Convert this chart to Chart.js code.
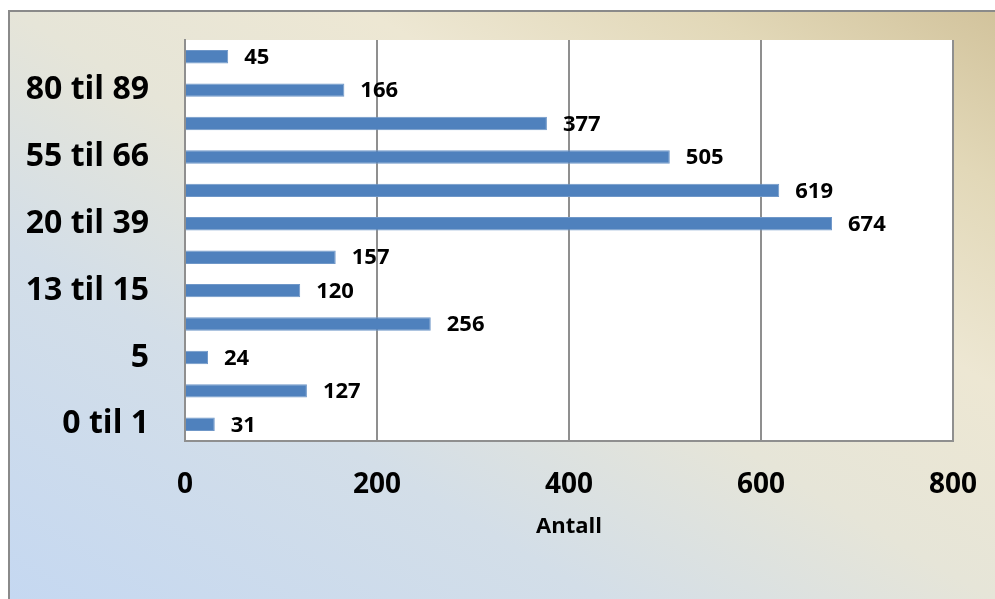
<!DOCTYPE html>
<html>
<head>
<meta charset="utf-8">
<script src="https://cdn.jsdelivr.net/npm/chart.js@4.4.1/dist/chart.umd.min.js"></script>
<style>
  html, body { margin: 0; padding: 0; background: #ffffff; }
  #wrap { width: 995px; height: 599px; position: relative; }
</style>
</head>
<body>
<div id="wrap"><canvas id="c" width="995" height="599"></canvas></div>
<script>
// Categories from bottom to top
const categories = ["0 til 1", "2 til 4", "5", "6 til 12", "13 til 15", "16 til 19",
                    "20 til 39", "40 til 54", "55 til 66", "67 til 79", "80 til 89", "90+"];
const values = [31, 127, 24, 256, 120, 157, 674, 619, 505, 377, 166, 45];
const xTicks = [0, 200, 400, 600, 800];
const xTitle = "Antall";

const backgroundPlugin = {
  id: 'bg',
  beforeDraw(chart) {
    const ctx = chart.ctx;
    const W = chart.width, H = chart.height;
    ctx.save();
    ctx.fillStyle = '#ffffff';
    ctx.fillRect(0, 0, W, H);
    const g = ctx.createLinearGradient(9, H, 528, -269);
    g.addColorStop(0, '#c5d8f1');
    g.addColorStop(0.3, '#d3dee8');
    g.addColorStop(0.5, '#e6e5d8');
    g.addColorStop(0.68, '#ede7d3');
    g.addColorStop(0.85, '#e2d8b8');
    g.addColorStop(1, '#d2c39c');
    ctx.fillStyle = g;
    ctx.fillRect(9, 10, W - 9, H - 10);
    ctx.strokeStyle = '#8a8a8a';
    ctx.lineWidth = 2;
    ctx.beginPath();
    ctx.moveTo(9, H);
    ctx.lineTo(9, 11);
    ctx.lineTo(W, 11);
    ctx.stroke();
    const a = chart.chartArea;
    ctx.fillStyle = '#ffffff';
    ctx.fillRect(a.left, a.top, a.right - a.left, a.bottom - a.top);
    ctx.restore();
  }
};

const valueLabels = {
  id: 'valueLabels',
  afterDatasetsDraw(chart) {
    const ctx = chart.ctx;
    const meta = chart.getDatasetMeta(0);
    ctx.save();
    ctx.font = 'bold 22px "Open Sans"';
    ctx.fillStyle = '#000000';
    ctx.textAlign = 'left';
    ctx.textBaseline = 'middle';
    meta.data.forEach((el, i) => {
      ctx.fillText(String(values[i]), el.x + 16, el.y + 1);
    });
    ctx.restore();
  }
};

function zeroPadding(scale) {
  scale.paddingTop = 0;
  scale.paddingBottom = 0;
  scale.paddingLeft = 0;
  scale.paddingRight = 0;
}

Chart.defaults.color = '#000000';
Chart.defaults.font.family = '"Open Sans", sans-serif';

new Chart(document.getElementById('c'), {
  type: 'bar',
  data: {
    labels: categories,
    datasets: [{
      data: values,
      backgroundColor: '#4f81bd',
      borderColor: '#6f97c8',
      borderWidth: 1,
      barPercentage: 0.4,
      categoryPercentage: 1.0
    }]
  },
  options: {
    indexAxis: 'y',
    responsive: false,
    animation: false,
    layout: { padding: { top: 40, right: 42, left: 0, bottom: 59 } },
    plugins: {
      legend: { display: false },
      tooltip: { enabled: false }
    },
    scales: {
      x: {
        min: xTicks[0],
        max: xTicks[xTicks.length - 1],
        afterBuildTicks(scale) { scale.ticks = xTicks.map(v => ({ value: v })); },
        ticks: {
          font: { size: 28, weight: 'bold' },
          padding: 27,
          maxRotation: 0
        },
        grid: { color: '#8f8f8f', lineWidth: 2, drawTicks: false },
        border: { display: true, color: '#8f8f8f', width: 2 },
        title: {
          display: true,
          text: xTitle,
          font: { size: 22, weight: 'bold' },
          padding: 0
        },
        afterFit(scale) { scale.height = 99; zeroPadding(scale); }
      },
      y: {
        reverse: true,
        ticks: {
          autoSkip: false,
          font: { size: 32, weight: 'bold' },
          padding: 36,
          callback(v, i) { return i % 2 === 0 ? categories[i] : ''; }
        },
        grid: { display: false, drawTicks: false },
        border: { display: true, color: '#8f8f8f', width: 2 },
        afterFit(scale) { scale.width = 185; zeroPadding(scale); }
      }
    }
  },
  plugins: [backgroundPlugin, valueLabels]
});
</script>
</body>
</html>
